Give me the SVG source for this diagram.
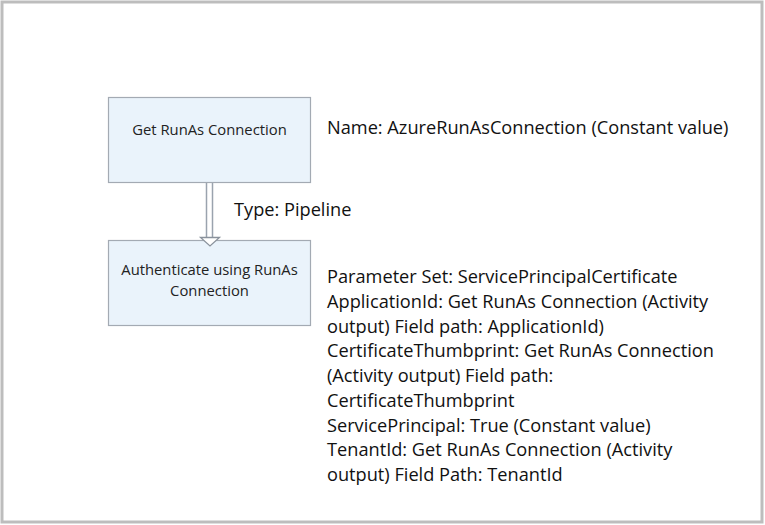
<svg xmlns="http://www.w3.org/2000/svg" width="765" height="525" viewBox="0 0 765 525">
<style>
.node{fill:#eaf3fb;stroke:#a3aab3;stroke-width:1.2}
.nt{font-family:"Open Sans","Noto Sans",sans-serif;font-size:14.8px;fill:#222;text-anchor:middle}
.lb{font-family:"Open Sans","Noto Sans",sans-serif;font-size:18.2px;fill:#111}
.conn{stroke:#9aa3ae;stroke-width:1.5;fill:none}
</style>
<rect x="0" y="0" width="765" height="525" fill="#fff"/>
<rect x="2" y="2" width="760" height="520" fill="none" stroke="#bdbdbd" stroke-width="3"/>
<g id="node-get">
<rect class="node" x="108.5" y="97.5" width="202" height="85"/>
<text class="nt" x="209.5" y="134.5">Get RunAs Connection</text>
</g>
<g id="node-auth">
<rect class="node" x="108.5" y="240.5" width="202" height="85"/>
<text class="nt" x="209.5" y="275">Authenticate using RunAs</text>
<text class="nt" x="209.5" y="296">Connection</text>
</g>
<g id="connectors">
<line class="conn" x1="206.5" y1="183" x2="206.5" y2="238"/>
<line class="conn" x1="212.5" y1="183" x2="212.5" y2="238"/>
<polygon points="200.5,237.5 219.5,237.5 210,246" fill="#fff" stroke="#8a929c" stroke-width="1.3"/>
<text class="lb" x="234" y="216">Type: Pipeline</text>
</g>
<g id="labels" class="lb">
<text x="327" y="134">Name: AzureRunAsConnection (Constant value)</text>
<text x="327" y="283">Parameter Set: ServicePrincipalCertificate</text>
<text x="327" y="307.8">ApplicationId: Get RunAs Connection (Activity</text>
<text x="327" y="332.5">output) Field path: ApplicationId)</text>
<text x="327" y="357.2">CertificateThumbprint: Get RunAs Connection</text>
<text x="327" y="382">(Activity output) Field path:</text>
<text x="327" y="406.8">CertificateThumbprint</text>
<text x="327" y="431.5">ServicePrincipal: True (Constant value)</text>
<text x="327" y="456.2">TenantId: Get RunAs Connection (Activity</text>
<text x="327" y="481">output) Field Path: TenantId</text>
</g>
</svg>
